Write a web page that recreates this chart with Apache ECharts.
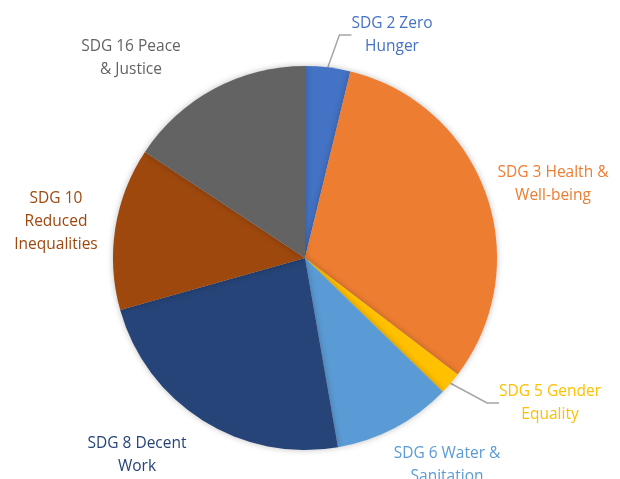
<!DOCTYPE html>
<html lang="en">
<head>
    <meta charset="UTF-8">
    <title>SDG pie</title>
    <script src="https://cdn.jsdelivr.net/npm/echarts@6/dist/echarts.min.js"></script>
    <style>
        html, body { margin: 0; padding: 0; background: #fff; }
        #chartmain { width: 620px; height: 479px; }
    </style>
</head>
<body>
<div id="chartmain"></div>
<script type="text/javascript">
    // slice names and shares (clockwise from 12 o'clock)
    var names = ['SDG 2 Zero\nHunger', 'SDG 3 Health &\nWell-being', 'SDG 5 Gender\nEquality',
        'SDG 6 Water &\nSanitation', 'SDG 8 Decent\nWork', 'SDG 10\nReduced\nInequalities', 'SDG 16 Peace\n& Justice'];
    var values = [3.8, 31.6, 1.9, 10.0, 23.4, 13.7, 15.7];
    var colors = ['#4472C4', '#ED7D31', '#FFC000', '#5B9BD5', '#264478', '#9E480E', '#636363'];

    // where each label sits (centre of text block)
    var labelPos = [[392, 35], [553, 184], [550, 403], [447, 465], [137, 455], [56, 222], [131, 58]];
    var showLine = [true, false, true, false, false, false, false];

    var myChart = echarts.init(document.getElementById('chartmain'));
    var pieData = [];
    for (var i = 0; i < names.length; i++) {
        pieData.push({
            name: names[i],
            value: values[i],
            itemStyle: { color: colors[i] },
            label: { color: colors[i] },
            labelLine: { show: showLine[i] }
        });
    }
    var option = {
        animation: false,
        series: [{
            type: 'pie',
            radius: 192,
            center: [305, 258],
            startAngle: 90,
            clockwise: true,
            data: pieData,
            itemStyle: {
                shadowBlur: 6,
                shadowColor: 'rgba(0,0,0,0.25)'
            },
            label: {
                show: true,
                position: 'outside',
                fontFamily: 'Open Sans',
                fontSize: 15.5,
                lineHeight: 23,
                align: 'center',
                overflow: 'none'
            },
            labelLine: {
                lineStyle: { color: '#A5A5A5', width: 1.5 },
                length: 20,
                length2: 12
            },
            labelLayout: function (params) {
                var p = labelPos[params.dataIndex];
                return {
                    x: p[0],
                    y: p[1],
                    align: 'center',
                    verticalAlign: 'middle'
                };
            }
        }]
    };
    myChart.setOption(option);
</script>
</body>
</html>
